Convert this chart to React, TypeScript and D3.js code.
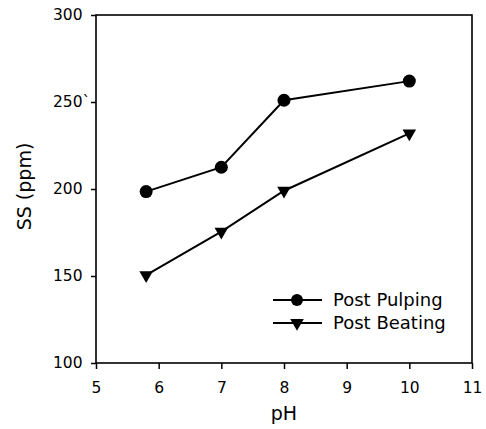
import React, { useEffect, useRef } from "react";
import * as d3 from "d3";

// values
const phValues = [5.8, 7, 8, 10];
const postPulping = [198.5, 212.5, 251, 262];
const postBeating = [150.5, 175.5, 199, 232];
const xTicks = [5, 6, 7, 8, 9, 10, 11];
const yTicks = [100, 150, 200, 250, 300];
const yTickLabels = ["100", "150", "200", "250`", "300"];

const width = 486,
  height = 429;
const margin = { left: 96, top: 15, right: 14, bottom: 66 };

export default function App() {
  const ref = useRef<SVGSVGElement>(null);

  useEffect(() => {
    const svg = d3.select(ref.current);
    svg.selectAll("*").remove();

    const x = d3
      .scaleLinear()
      .domain([5, 11])
      .range([margin.left, width - margin.right]);
    const y = d3
      .scaleLinear()
      .domain([100, 300])
      .range([height - margin.bottom, margin.top]);

    const font = "'DejaVu Sans', Arial, sans-serif";

    // frame
    svg
      .append("rect")
      .attr("x", x(5))
      .attr("y", y(300))
      .attr("width", x(11) - x(5))
      .attr("height", y(100) - y(300))
      .attr("fill", "none")
      .attr("stroke", "#000")
      .attr("stroke-width", 1.6);

    // x axis
    const xAxis = svg
      .append("g")
      .attr("transform", "translate(0," + y(100) + ")")
      .call(d3.axisBottom(x).tickValues(xTicks).tickSize(6).tickFormat(d3.format("d")));
    xAxis.select(".domain").remove();
    xAxis.selectAll("line").attr("stroke-width", 1.5);
    xAxis
      .selectAll("text")
      .attr("font-size", 15.5)
      .attr("font-family", font)
      .attr("fill", "#000")
      .attr("dy", null)
      .attr("y", 30);

    // y axis
    const yAxis = svg
      .append("g")
      .attr("transform", "translate(" + x(5) + ",0)")
      .call(
        d3
          .axisLeft(y)
          .tickValues(yTicks)
          .tickSize(5)
          .tickFormat((d, i) => yTickLabels[i])
      );
    yAxis.select(".domain").remove();
    yAxis.selectAll("line").attr("stroke-width", 1.5);
    yAxis
      .selectAll("text")
      .attr("font-size", 15.5)
      .attr("font-family", font)
      .attr("fill", "#000")
      .attr("text-anchor", "start")
      .attr("x", -43);

    // axis titles
    svg
      .append("text")
      .attr("x", (x(5) + x(11)) / 2)
      .attr("y", 420)
      .attr("text-anchor", "middle")
      .attr("font-size", 19)
      .attr("font-family", font)
      .text("pH");
    svg
      .append("text")
      .attr("transform", "translate(31,186.5) rotate(-90)")
      .attr("text-anchor", "middle")
      .attr("font-size", 19)
      .attr("font-family", font)
      .text("SS (ppm)");

    const line = d3
      .line<number>()
      .x((d, i) => x(phValues[i]))
      .y((d) => y(d));

    const tri = d3.symbol().type(d3.symbolTriangle).size(80);

    // post pulping
    svg
      .append("path")
      .attr("d", line(postPulping))
      .attr("fill", "none")
      .attr("stroke", "#000")
      .attr("stroke-width", 2);
    svg
      .selectAll(".pulp")
      .data(postPulping)
      .enter()
      .append("circle")
      .attr("cx", (d, i) => x(phValues[i]))
      .attr("cy", (d) => y(d))
      .attr("r", 6.5)
      .attr("fill", "#000");

    // post beating
    svg
      .append("path")
      .attr("d", line(postBeating))
      .attr("fill", "none")
      .attr("stroke", "#000")
      .attr("stroke-width", 2);
    svg
      .selectAll(".beat")
      .data(postBeating)
      .enter()
      .append("path")
      .attr("d", tri)
      .attr("transform", (d, i) => "translate(" + x(phValues[i]) + "," + y(d) + ") rotate(180)")
      .attr("fill", "#000");

    // legend
    const legend = [
      { name: "Post Pulping", shape: "circle" },
      { name: "Post Beating", shape: "tri" },
    ];
    legend.forEach((l, i) => {
      const ly = 300 + i * 23;
      svg
        .append("line")
        .attr("x1", 273)
        .attr("x2", 322)
        .attr("y1", ly)
        .attr("y2", ly)
        .attr("stroke", "#000")
        .attr("stroke-width", 2);
      if (l.shape === "circle") {
        svg.append("circle").attr("cx", 297).attr("cy", ly).attr("r", 6).attr("fill", "#000");
      } else {
        svg
          .append("path")
          .attr("d", tri)
          .attr("transform", "translate(297," + ly + ") rotate(180)")
          .attr("fill", "#000");
      }
      svg
        .append("text")
        .attr("x", 333)
        .attr("y", ly + 6)
        .attr("font-size", 18)
        .attr("font-family", font)
        .text(l.name);
    });
  }, []);

  return (
    <svg
      ref={ref}
      width={width}
      height={height}
      style={{ position: "absolute", left: 0, top: 0, background: "#fff" }}
    />
  );
}
